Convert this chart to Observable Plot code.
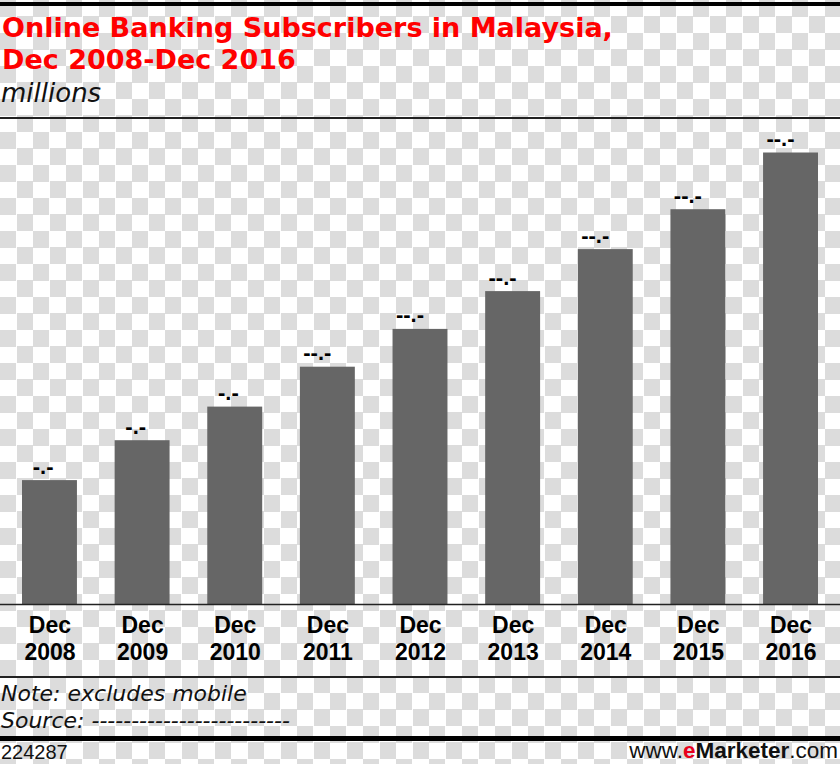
<!DOCTYPE html>
<html>
<head>
<meta charset="utf-8">
<script src="https://cdn.jsdelivr.net/npm/d3@7"></script>
<script src="https://cdn.jsdelivr.net/npm/@observablehq/plot@0.6"></script>
<style>
  html, body { margin: 0; padding: 0; }
  #page {
    position: relative; width: 840px; height: 764px; overflow: hidden;
    background-color: #fff;
    background-image: conic-gradient(#fff 25%, #dcdcdc 0 50%, #fff 0 75%, #dcdcdc 0);
    background-size: 33px 33px;
  }
  .abs { position: absolute; }
  .rule { position: absolute; left: 0; width: 840px; }
  #title { left: 2px; top: 12px; font-family: "DejaVu Sans"; font-weight: bold; font-size: 27px; line-height: 31.5px; color: #f00; white-space: nowrap; }
  #subtitle { left: 1px; top: 80px; font-family: "DejaVu Sans"; font-style: italic; font-size: 26px; line-height: 26px; color: #111; }
  .foot { font-family: "DejaVu Sans"; font-style: italic; font-size: 22px; line-height: 22px; color: #111; left: 1px; white-space: nowrap; }
  #id { left: 1px; top: 742px; font-family: "Liberation Sans"; font-size: 20px; line-height: 20px; color: #111; }
  #brand { right: 2px; top: 740px; font-family: "Liberation Sans"; font-size: 22.5px; line-height: 22.5px; color: #111; white-space: nowrap; }
  #chart { left: 0; top: 120px; }
</style>
</head>
<body>
<div id="page">
  <div class="rule" style="top:2px;height:4px;background:#000"></div>
  <div id="title" class="abs">Online Banking Subscribers in Malaysia,<br>Dec 2008-Dec 2016</div>
  <div id="subtitle" class="abs">millions</div>
  <div class="rule" style="top:117px;height:1.5px;background:#222"></div>
  <div id="chart" class="abs"></div>
  <div class="rule" style="top:676px;height:1.5px;background:#222"></div>
  <div class="abs foot" style="top:683px">Note: excludes mobile</div>
  <div class="abs foot" style="top:710px">Source: -------------------------</div>
  <div class="rule" style="top:736px;height:5px;background:#000"></div>
  <div id="id" class="abs">224287</div>
  <div id="brand" class="abs">www.<b style="color:#e8001c">e</b><b>Marketer</b>.com</div>
</div>
<script>
// Data (millions); values are masked in the original ("-.-")
const years = ["2008", "2009", "2010", "2011", "2012", "2013", "2014", "2015", "2016"];
const subscribers = [5.9, 7.8, 9.4, 11.3, 13.1, 14.9, 16.9, 18.8, 21.5];

const data = years.map((y, i) => ({year: y, value: subscribers[i]}));
const mask = v => v.toFixed(1).replace(/\d/g, "-");

const chart = Plot.plot({
  width: 840,
  height: 556,
  marginTop: 22,
  marginBottom: 72,
  marginLeft: 22,
  marginRight: 22,
  style: {fontFamily: "Liberation Sans", background: "transparent", color: "#000"},
  x: {domain: years, paddingInner: 0.407, paddingOuter: 0, round: false, label: null},
  y: {domain: [0, 22], axis: null},
  marks: [
    Plot.barY(data, {x: "year", y: "value", fill: "#666"}),
    Plot.ruleY([0], {stroke: "#222", strokeWidth: 1.5, insetLeft: -22, insetRight: -22}),
    Plot.text(data, {
      x: "year", y: "value", text: d => mask(d.value),
      textAnchor: "end", lineAnchor: "bottom", dx: 3.5, dy: -7,
      fontSize: 22, fontWeight: "bold", fill: "#000"
    }),
    Plot.axisX({
      tickSize: 0, tickPadding: 10, fontSize: 23, fontWeight: "bold",
      lineHeight: 1.16, fill: "#000",
      tickFormat: y => "Dec\n" + y, label: null
    })
  ]
});
document.getElementById("chart").appendChild(chart);
</script>
</body>
</html>
